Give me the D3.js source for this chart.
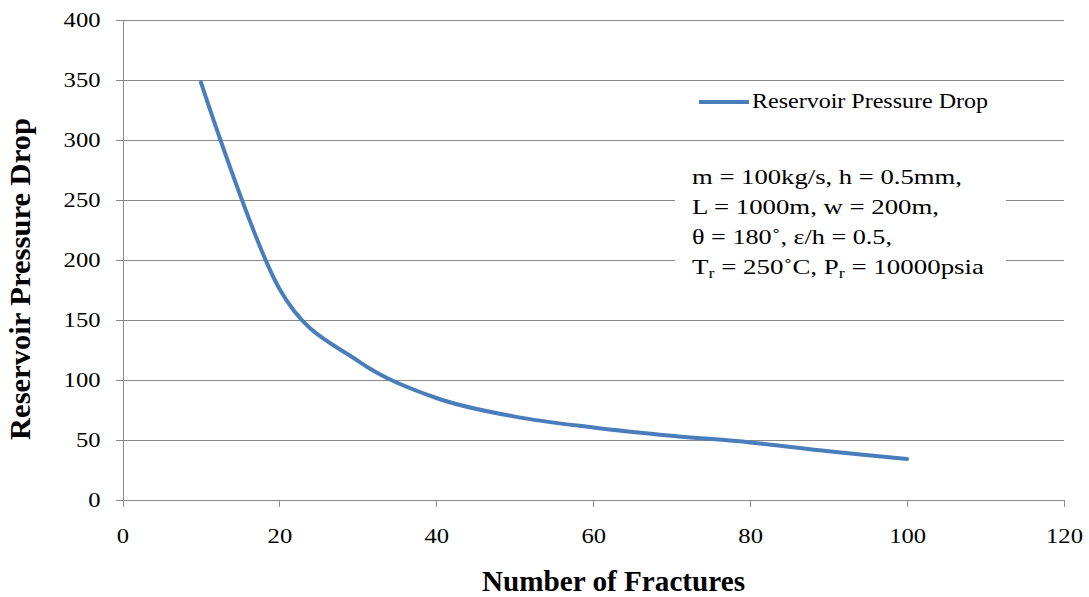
<!DOCTYPE html>
<html>
<head>
<meta charset="utf-8">
<script src="https://cdn.jsdelivr.net/npm/d3@7"></script>
<style>
  html, body { margin: 0; padding: 0; background: #ffffff; }
  svg { display: block; font-family: "Liberation Serif", "Times New Roman", serif; }
</style>
</head>
<body>
<svg id="chart" width="1089" height="597"></svg>
<script>
// ---- data ----
const fractures = [10, 20, 30, 40, 50, 60, 70, 80, 90, 100];
const pressureDrop = [348, 176, 116, 85, 69.5, 60.5, 53.6, 48, 40.6, 34.2];
const xTicks = [0, 20, 40, 60, 80, 100, 120];
const yTicks = [0, 50, 100, 150, 200, 250, 300, 350, 400];
const seriesName = "Reservoir Pressure Drop";
const xTitle = "Number of Fractures";
const yTitle = "Reservoir Pressure Drop";
const noteLines = [
  [["m = 100kg/s, h = 0.5mm,", false]],
  [["L = 1000m, w = 200m,", false]],
  [["\u03B8 = 180\u02DA, \u03B5/h = 0.5,", false]],
  [["T", false], ["r", true], [" = 250\u02DAC, P", false], ["r", true], [" = 10000psia", false]]
];

// ---- layout ----
const svg = d3.select("#chart");
const x = d3.scaleLinear().domain([0, 120]).range([122.5, 1064]);
const y = d3.scaleLinear().domain([0, 400]).range([500, 20]);
const gridColor = "#898989";
const lineColor = "#4a7ebb";

function stretch(sel, target) {
  sel.each(function () {
    this.setAttribute("textLength", target);
    this.setAttribute("lengthAdjust", "spacingAndGlyphs");
  });
}

// gridlines
svg.append("g").selectAll("line").data(yTicks.filter(d => d > 0)).join("line")
  .attr("x1", x(0)).attr("x2", x(120))
  .attr("y1", d => y(d)).attr("y2", d => y(d))
  .attr("stroke", gridColor).attr("stroke-width", 1).attr("shape-rendering", "crispEdges");

// y axis
const yAxis = svg.append("g").attr("transform", `translate(${x(0)},0)`)
  .call(d3.axisLeft(y).tickValues(yTicks).tickSize(7).tickPadding(15).tickFormat(d3.format("d")));
yAxis.select(".domain").attr("stroke", gridColor).attr("shape-rendering", "crispEdges");
yAxis.selectAll(".tick line").attr("stroke", gridColor).attr("shape-rendering", "crispEdges");
yAxis.selectAll(".tick text")
  .attr("font-family", "Liberation Serif").attr("font-size", 20).attr("fill", "#000")
  .attr("dy", "0.34em")
  .each(function (d) { const n = String(d).length; this.setAttribute("textLength", n * 12.3); this.setAttribute("lengthAdjust", "spacingAndGlyphs"); });

// x axis
const xAxis = svg.append("g").attr("transform", `translate(0,${y(0)})`)
  .call(d3.axisBottom(x).tickValues(xTicks).tickSize(7).tickPadding(25).tickFormat(d3.format("d")));
xAxis.select(".domain").attr("stroke", gridColor).attr("shape-rendering", "crispEdges");
xAxis.selectAll(".tick line").attr("stroke", gridColor).attr("shape-rendering", "crispEdges");
xAxis.selectAll(".tick text")
  .attr("font-family", "Liberation Serif").attr("font-size", 20).attr("fill", "#000")
  .attr("dy", "0")
  .attr("y", 43)
  .each(function (d) { const n = String(d).length; this.setAttribute("textLength", n * 12.3); this.setAttribute("lengthAdjust", "spacingAndGlyphs"); });

// annotation white box (covers gridlines)
svg.append("rect").attr("x", 675).attr("y", 148).attr("width", 331).attr("height", 140).attr("fill", "#fff");

// series line
const data = fractures.map((f, i) => [f, pressureDrop[i]]);
svg.append("path").datum(data)
  .attr("fill", "none").attr("stroke", lineColor).attr("stroke-width", 4)
  .attr("stroke-linecap", "round")
  .attr("d", d3.line().x(d => x(d[0])).y(d => y(d[1])).curve(d3.curveCardinal.tension(0)));

// legend
svg.append("line").attr("x1", 699).attr("x2", 749).attr("y1", 102).attr("y2", 102)
  .attr("stroke", lineColor).attr("stroke-width", 4);
svg.append("text").attr("x", 752).attr("y", 108).attr("font-size", 21).attr("fill", "#000")
  .text(seriesName).call(stretch, 236);

// annotation text
const noteWidths = [270, 247, 200, 292];
noteLines.forEach((parts, i) => {
  const t = svg.append("text").attr("x", 692).attr("y", 184 + i * 30)
    .attr("font-size", 21).attr("fill", "#000");
  parts.forEach(([s, sub]) => {
    const ts = t.append("tspan").text(s);
    if (sub) ts.attr("font-size", 14).attr("baseline-shift", "-30%");
  });
  t.call(stretch, noteWidths[i]);
});

// axis titles
svg.append("text").attr("x", 613.5).attr("y", 591)
  .attr("text-anchor", "middle").attr("font-size", 29).attr("font-weight", "bold").attr("fill", "#000")
  .text(xTitle).call(stretch, 263);
svg.append("text").attr("transform", "translate(30,279) rotate(-90)")
  .attr("text-anchor", "middle").attr("font-size", 29).attr("font-weight", "bold").attr("fill", "#000")
  .text(yTitle).call(stretch, 322);
</script>
</body>
</html>
